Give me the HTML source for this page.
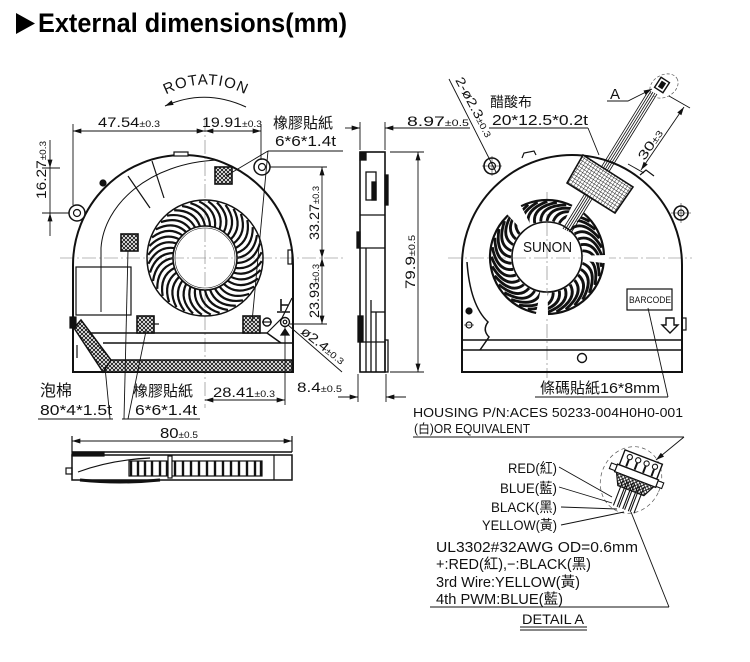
<!DOCTYPE html>
<html><head><meta charset="utf-8">
<style>
html,body{margin:0;padding:0;background:#fff;width:750px;height:662px;overflow:hidden}
svg{display:block}
text{font-family:"Liberation Sans","Noto Sans CJK TC",sans-serif;fill:#111}
</style></head><body>
<svg width="750" height="662" viewBox="0 0 750 662" xmlns="http://www.w3.org/2000/svg">
<defs>
<marker id="ar" viewBox="0 0 10 6" refX="10" refY="3" markerWidth="9" markerHeight="5" markerUnits="userSpaceOnUse" orient="auto-start-reverse"><path d="M0,0 L10,3 L0,6 z" fill="#111"/></marker>
<pattern id="hx" width="4" height="4" patternUnits="userSpaceOnUse"><rect width="4" height="4" fill="#fff"/><path d="M0,0 L4,4 M4,0 L0,4" stroke="#111" stroke-width="0.9"/></pattern>
<pattern id="grid" width="3.2" height="3.2" patternUnits="userSpaceOnUse" patternTransform="rotate(33)"><rect width="3.2" height="3.2" fill="#fff"/><path d="M0,0 H3.2 M0,0 V3.2" stroke="#111" stroke-width="0.8"/></pattern>
<path id="b1" d="M32,0 Q49,-3 52,-23" fill="none" stroke="#111" stroke-width="2.2"/>
<path id="b2" d="M36,0 Q52,3 48,28" fill="none" stroke="#111" stroke-width="2.8"/>
</defs>

<!-- Title -->
<polygon points="16,13 16,34 35,23.5" fill="#000"/>
<text x="38" y="32" font-size="27" font-weight="bold" textLength="309" lengthAdjust="spacingAndGlyphs" style="fill:#000">External dimensions(mm)</text>

<!-- ================= LEFT VIEW ================= -->
<g fill="none" stroke="#111" stroke-width="1.2">
  <g stroke="#777" stroke-width="0.6" stroke-dasharray="14 3 2 3">
    <line x1="205" y1="118" x2="205" y2="408"/>
    <line x1="60" y1="258" x2="345" y2="258"/>
  </g>
  <!-- housing -->
  <path d="M73,372 V265 A110,110 0 0 1 293,265 V372 Z" stroke-width="2"/>
  <path d="M101,312 V248 C104,205 148,163 218,160" stroke-width="1"/>
  <line x1="128" y1="176" x2="150" y2="208"/>
  <line x1="152" y1="161" x2="164" y2="198"/>
  <rect x="174" y="152" width="14" height="4" fill="#fff"/>
  <circle cx="103" cy="183" r="3" fill="#111"/>
  <rect x="76" y="267" width="55" height="48"/>
  <rect x="288" y="250" width="4" height="14"/>
  <path d="M267,333 L282,318 L292,298"/>
  <!-- bottom -->
  <line x1="87" y1="333" x2="267" y2="333" stroke-width="1.5"/>
  <line x1="267" y1="333" x2="281" y2="343" stroke-width="1.5"/>
  <line x1="103" y1="343" x2="292" y2="343" stroke-width="1.5"/>
  <rect x="103" y="360" width="189" height="12" fill="url(#hx)" stroke-width="1.5"/>
  <polygon points="74,328 81,320 111,360 103,372" fill="url(#hx)" stroke-width="1.5"/>
  <rect x="70" y="317" width="6" height="11" fill="#111"/>
  <line x1="77" y1="345" x2="77" y2="358"/>
  <!-- pads -->
  <rect x="215" y="167" width="17" height="17" fill="url(#hx)" stroke-width="1.6"/>
  <rect x="121" y="234" width="17" height="17" fill="url(#hx)" stroke-width="1.6"/>
  <rect x="137" y="316" width="17" height="17" fill="url(#hx)" stroke-width="1.6"/>
  <rect x="243" y="316" width="17" height="17" fill="url(#hx)" stroke-width="1.6"/>
  <line x1="154" y1="324" x2="159" y2="324"/>
  <!-- impeller -->
  <g transform="translate(205,258)">
    <circle r="58" stroke-width="1.5"/>
    <use href="#b1" transform="rotate(0)"/><use href="#b1" transform="rotate(9)"/><use href="#b1" transform="rotate(18)"/><use href="#b1" transform="rotate(27)"/><use href="#b1" transform="rotate(36)"/><use href="#b1" transform="rotate(45)"/><use href="#b1" transform="rotate(54)"/><use href="#b1" transform="rotate(63)"/><use href="#b1" transform="rotate(72)"/><use href="#b1" transform="rotate(81)"/>
    <use href="#b1" transform="rotate(90)"/><use href="#b1" transform="rotate(99)"/><use href="#b1" transform="rotate(108)"/><use href="#b1" transform="rotate(117)"/><use href="#b1" transform="rotate(126)"/><use href="#b1" transform="rotate(135)"/><use href="#b1" transform="rotate(144)"/><use href="#b1" transform="rotate(153)"/><use href="#b1" transform="rotate(162)"/><use href="#b1" transform="rotate(171)"/>
    <use href="#b1" transform="rotate(180)"/><use href="#b1" transform="rotate(189)"/><use href="#b1" transform="rotate(198)"/><use href="#b1" transform="rotate(207)"/><use href="#b1" transform="rotate(216)"/><use href="#b1" transform="rotate(225)"/><use href="#b1" transform="rotate(234)"/><use href="#b1" transform="rotate(243)"/><use href="#b1" transform="rotate(252)"/><use href="#b1" transform="rotate(261)"/>
    <use href="#b1" transform="rotate(270)"/><use href="#b1" transform="rotate(279)"/><use href="#b1" transform="rotate(288)"/><use href="#b1" transform="rotate(297)"/><use href="#b1" transform="rotate(306)"/><use href="#b1" transform="rotate(315)"/><use href="#b1" transform="rotate(324)"/><use href="#b1" transform="rotate(333)"/><use href="#b1" transform="rotate(342)"/><use href="#b1" transform="rotate(351)"/>
    <circle r="32" fill="#fff" stroke-width="1.6"/>
    <circle r="30" stroke-width="0.6"/>
  </g>
  <g stroke="#777" stroke-width="0.6" stroke-dasharray="14 3 2 3">
    <line x1="205" y1="228" x2="205" y2="290"/>
    <line x1="170" y1="258" x2="240" y2="258"/>
  </g>
  <!-- ears -->
  <circle cx="77" cy="213" r="8" fill="#fff" stroke-width="1.5"/>
  <circle cx="77" cy="213" r="3.5"/>
  <circle cx="262" cy="167" r="8" fill="#fff" stroke-width="1.5"/>
  <circle cx="262" cy="167" r="3.5"/>
  <!-- screw holes -->
  <circle cx="267" cy="322" r="4" stroke-width="1.4"/>
  <line x1="262" y1="322" x2="272" y2="322"/>
  <circle cx="285" cy="322" r="4.5" stroke-width="1.4"/>
  <circle cx="285" cy="322" r="1.8"/>
  <path d="M281,299 V311 M281,305 H288 M277,312 H290" stroke-width="1.6"/>
  <path d="M285,329 L281,335 H289 Z" fill="#111"/>
</g>

<!-- ROTATION -->
<path id="rp" d="M158,99 Q205,70 254,99" fill="none"/>
<text font-size="15" letter-spacing="1"><textPath href="#rp" startOffset="50%" text-anchor="middle">ROTATION</textPath></text>
<path d="M165,106 Q205,88 246,107" fill="none" stroke="#111" stroke-width="1.1" marker-start="url(#ar)"/>

<!-- Left view dimensions -->
<g fill="none" stroke="#111" stroke-width="0.9">
  <line x1="73" y1="124" x2="73" y2="205"/>
  <line x1="261" y1="124" x2="261" y2="160"/>
  <line x1="73" y1="131" x2="205" y2="131" marker-start="url(#ar)" marker-end="url(#ar)"/>
  <line x1="205" y1="131" x2="261" y2="131" marker-start="url(#ar)" marker-end="url(#ar)"/>
  <!-- 16.27 -->
  <line x1="42" y1="213" x2="69" y2="213"/>
  <line x1="42" y1="168" x2="60" y2="168"/>
  <line x1="50" y1="140" x2="50" y2="168" marker-end="url(#ar)"/>
  <line x1="50" y1="236" x2="50" y2="213" marker-end="url(#ar)"/>
  <line x1="50" y1="168" x2="50" y2="213"/>
  <!-- right verticals -->
  <line x1="270" y1="167" x2="327" y2="167"/>
  <line x1="290" y1="324" x2="327" y2="324"/>
  <line x1="322" y1="167" x2="322" y2="258" marker-start="url(#ar)" marker-end="url(#ar)"/>
  <line x1="322" y1="258" x2="322" y2="324" marker-start="url(#ar)" marker-end="url(#ar)"/>
  <!-- dia leader -->
  <line x1="288" y1="325" x2="342" y2="372"/>
  <!-- 28.41 -->
  <line x1="285" y1="326" x2="285" y2="405"/>
  <line x1="205" y1="400" x2="285" y2="400" marker-start="url(#ar)" marker-end="url(#ar)"/>
  <!-- 8.4 -->
  <line x1="358" y1="374" x2="358" y2="402"/>
  <line x1="386" y1="374" x2="386" y2="402"/>
  <line x1="338" y1="397" x2="358" y2="397" marker-end="url(#ar)"/>
  <line x1="406" y1="397" x2="386" y2="397" marker-end="url(#ar)"/>
  <!-- labels underline/leaders -->
  <line x1="268" y1="151" x2="343" y2="151"/>
  <line x1="268" y1="151" x2="226" y2="176"/>
  <line x1="268" y1="151" x2="252" y2="322"/>
  <line x1="38" y1="419" x2="113" y2="419"/>
  <line x1="110" y1="419" x2="105" y2="367"/>
  <line x1="122" y1="419" x2="200" y2="419"/>
  <line x1="124" y1="419" x2="128" y2="250"/>
  <line x1="128" y1="419" x2="146" y2="331"/>
</g>
<text x="98" y="127" font-size="14" textLength="62" lengthAdjust="spacingAndGlyphs">47.54<tspan font-size="9">±0.3</tspan></text>
<text x="202" y="127" font-size="14" textLength="60" lengthAdjust="spacingAndGlyphs">19.91<tspan font-size="9">±0.3</tspan></text>
<text transform="translate(46,170) rotate(-90)" text-anchor="middle" font-size="14" textLength="58" lengthAdjust="spacingAndGlyphs">16.27<tspan font-size="9">±0.3</tspan></text>
<text transform="translate(319,213) rotate(-90)" text-anchor="middle" font-size="14" textLength="54" lengthAdjust="spacingAndGlyphs">33.27<tspan font-size="9">±0.3</tspan></text>
<text transform="translate(319,291) rotate(-90)" text-anchor="middle" font-size="14" textLength="54" lengthAdjust="spacingAndGlyphs">23.93<tspan font-size="9">±0.3</tspan></text>
<text transform="translate(300,333) rotate(38)" font-size="13" textLength="52" lengthAdjust="spacingAndGlyphs">ø2.4<tspan font-size="9">±0.3</tspan></text>
<text x="213" y="397" font-size="14" textLength="62" lengthAdjust="spacingAndGlyphs">28.41<tspan font-size="9">±0.3</tspan></text>
<text x="297" y="392" font-size="14" textLength="45" lengthAdjust="spacingAndGlyphs">8.4<tspan font-size="9">±0.5</tspan></text>
<text x="273" y="128" font-size="15">橡膠貼紙</text>
<text x="275" y="146" font-size="15" textLength="61" lengthAdjust="spacingAndGlyphs">6*6*1.4t</text>
<text x="40" y="396" font-size="16">泡棉</text>
<text x="40" y="415" font-size="15" textLength="72" lengthAdjust="spacingAndGlyphs">80*4*1.5t</text>
<text x="133" y="396" font-size="15">橡膠貼紙</text>
<text x="135" y="415" font-size="15" textLength="62" lengthAdjust="spacingAndGlyphs">6*6*1.4t</text>

<!-- ================= SIDE VIEW ================= -->
<g fill="none" stroke="#111" stroke-width="1.3">
  <rect x="360" y="152" width="25" height="220" stroke-width="1.6"/>
  <rect x="360" y="153" width="6" height="7" fill="#111"/>
  <rect x="366" y="172" width="10" height="28"/>
  <rect x="372" y="182" width="4" height="18" fill="#111"/>
  <rect x="385" y="175" width="3" height="30" fill="#111"/>
  <line x1="360" y1="215" x2="385" y2="215"/>
  <line x1="360" y1="248" x2="385" y2="248"/>
  <rect x="357" y="232" width="3" height="16" fill="#111"/>
  <line x1="366" y1="248" x2="366" y2="372"/>
  <line x1="371" y1="300" x2="371" y2="372"/>
  <line x1="376" y1="312" x2="376" y2="372"/>
  <line x1="371" y1="312" x2="385" y2="312"/>
  <rect x="358" y="316" width="5" height="26" fill="#111"/>
  <line x1="360" y1="342" x2="385" y2="342"/>
  <rect x="385" y="340" width="3" height="32"/>
  <!-- dims -->
  <g stroke-width="0.9">
    <line x1="360" y1="122" x2="360" y2="150"/>
    <line x1="385" y1="122" x2="385" y2="150"/>
    <line x1="345" y1="128" x2="360" y2="128" marker-end="url(#ar)"/>
    <line x1="470" y1="128" x2="385" y2="128" marker-end="url(#ar)"/>
    <line x1="390" y1="152" x2="424" y2="152"/>
    <line x1="390" y1="372" x2="424" y2="372"/>
    <line x1="418" y1="152" x2="418" y2="372" marker-start="url(#ar)" marker-end="url(#ar)"/>
  </g>
</g>
<text x="407" y="126" font-size="14" textLength="62" lengthAdjust="spacingAndGlyphs">8.97<tspan font-size="9">±0.5</tspan></text>
<text transform="translate(415,262) rotate(-90)" text-anchor="middle" font-size="14" textLength="54" lengthAdjust="spacingAndGlyphs">79.9<tspan font-size="9">±0.5</tspan></text>

<!-- ================= BOTTOM VIEW ================= -->
<g fill="none" stroke="#111" stroke-width="1.2">
  <line x1="72" y1="436" x2="72" y2="452"/>
  <line x1="292" y1="436" x2="292" y2="452"/>
  <line x1="72" y1="441" x2="292" y2="441" stroke-width="0.9" marker-start="url(#ar)" marker-end="url(#ar)"/>
  <line x1="72" y1="452" x2="292" y2="452" stroke-width="1.5"/>
  <rect x="72" y="455" width="220" height="25" stroke-width="1.5"/>
  <rect x="72" y="452" width="32" height="4" fill="#111"/>
  <rect x="66" y="468" width="6" height="6"/>
  <path d="M78,472 Q110,460 150,458"/>
  <path d="M80,480 Q120,484 160,480" stroke-width="3"/>
  <rect x="129" y="461" width="133" height="15"/>
  <g stroke-width="2.4">
    <line x1="131" y1="461" x2="131" y2="476"/><line x1="138" y1="461" x2="138" y2="476"/><line x1="145" y1="461" x2="145" y2="476"/><line x1="152" y1="461" x2="152" y2="476"/><line x1="160" y1="461" x2="160" y2="476"/><line x1="167" y1="461" x2="167" y2="476"/><line x1="175" y1="461" x2="175" y2="476"/><line x1="183" y1="461" x2="183" y2="476"/><line x1="191" y1="461" x2="191" y2="476"/><line x1="199" y1="461" x2="199" y2="476"/><line x1="207" y1="461" x2="207" y2="476"/><line x1="215" y1="461" x2="215" y2="476"/><line x1="223" y1="461" x2="223" y2="476"/><line x1="231" y1="461" x2="231" y2="476"/><line x1="239" y1="461" x2="239" y2="476"/><line x1="247" y1="461" x2="247" y2="476"/><line x1="255" y1="461" x2="255" y2="476"/><line x1="261" y1="461" x2="261" y2="476"/>
  </g>
  <rect x="168" y="456" width="4" height="22" fill="#fff"/>
  <line x1="274" y1="455" x2="274" y2="480"/>
</g>
<text x="160" y="438" font-size="15" textLength="38" lengthAdjust="spacingAndGlyphs">80<tspan font-size="9">±0.5</tspan></text>

<!-- ================= RIGHT VIEW ================= -->
<g fill="none" stroke="#111" stroke-width="1.2">
  <g stroke="#777" stroke-width="0.6" stroke-dasharray="14 3 2 3">
    <line x1="547" y1="192" x2="547" y2="378"/>
    <line x1="448" y1="258" x2="692" y2="258"/>
  </g>
  <path d="M462,372 V265 A110,110 0 0 1 682,265 V372 Z" stroke-width="2"/>
  <line x1="462" y1="340" x2="682" y2="340" stroke-width="1.5"/>
  <line x1="462" y1="350" x2="682" y2="350" stroke-width="1.5"/>
  <path d="M467,262 Q470,305 488,322 Q482,330 489,337 L480,350" stroke-width="1.5"/>
  <circle cx="469" cy="311" r="3" fill="#111"/>
  <circle cx="469" cy="325" r="3"/>
  <line x1="464" y1="325" x2="474" y2="325" stroke-width="0.6"/>
  <circle cx="582" cy="358" r="4.5" stroke-width="1.4"/>
  <rect x="682" y="318" width="4" height="12"/>
  <rect x="627" y="289" width="45" height="21" fill="#fff"/>
  <polygon points="666,318 674,318 674,325 678,325 670,333 662,325 666,325" stroke-width="1.4"/>
  <path d="M522,158 L524,153 L534,151 L536,155"/>
  <path d="M640,175 L646,170 L654,176"/>
  <!-- ears -->
  <circle cx="492" cy="166" r="8" fill="#fff" stroke-width="1.6"/>
  <circle cx="492" cy="166" r="3.5"/>
  <circle cx="681" cy="213" r="7" fill="#fff" stroke-width="1.6"/>
  <circle cx="681" cy="213" r="3"/>
  <g stroke-width="0.5">
    <line x1="482" y1="166" x2="502" y2="166"/><line x1="492" y1="156" x2="492" y2="176"/>
    <line x1="671" y1="213" x2="691" y2="213"/><line x1="681" y1="203" x2="681" y2="223"/>
  </g>
  <!-- impeller -->
  <g transform="translate(547,257)">
    <use href="#b2" transform="rotate(0)"/><use href="#b2" transform="rotate(10)"/><use href="#b2" transform="rotate(20)"/><use href="#b2" transform="rotate(30)"/><use href="#b2" transform="rotate(40)"/><use href="#b2" transform="rotate(50)"/><use href="#b2" transform="rotate(60)"/><use href="#b2" transform="rotate(70)"/><use href="#b2" transform="rotate(80)"/>
    <use href="#b2" transform="rotate(90)"/><use href="#b2" transform="rotate(100)"/><use href="#b2" transform="rotate(110)"/><use href="#b2" transform="rotate(120)"/><use href="#b2" transform="rotate(130)"/><use href="#b2" transform="rotate(140)"/><use href="#b2" transform="rotate(150)"/><use href="#b2" transform="rotate(160)"/><use href="#b2" transform="rotate(170)"/>
    <use href="#b2" transform="rotate(180)"/><use href="#b2" transform="rotate(190)"/><use href="#b2" transform="rotate(200)"/><use href="#b2" transform="rotate(210)"/><use href="#b2" transform="rotate(220)"/><use href="#b2" transform="rotate(230)"/><use href="#b2" transform="rotate(240)"/><use href="#b2" transform="rotate(250)"/><use href="#b2" transform="rotate(260)"/>
    <use href="#b2" transform="rotate(270)"/><use href="#b2" transform="rotate(280)"/><use href="#b2" transform="rotate(290)"/><use href="#b2" transform="rotate(300)"/><use href="#b2" transform="rotate(310)"/><use href="#b2" transform="rotate(320)"/><use href="#b2" transform="rotate(330)"/><use href="#b2" transform="rotate(340)"/><use href="#b2" transform="rotate(350)"/>
    <circle r="57" stroke-width="2.2"/>
    <g fill="#fff" stroke="none">
      <path d="M0,0 L27.2,-55.7 A62,62 0 0 1 39.9,-47.5 Z"/>
      <path d="M0,0 L61.96,-2.16 A62,62 0 0 1 61.66,6.48 Z"/>
      <path d="M0,0 L1.08,61.99 A62,62 0 0 1 -11.83,60.86 Z"/>
      <path d="M0,0 L-42.28,-45.34 A62,62 0 0 1 -28.15,-55.24 Z"/>
    </g>
    <circle r="35" fill="#fff" stroke-width="1.6"/>
  </g>
  <g stroke="#777" stroke-width="0.6" stroke-dasharray="14 3 2 3">
    <line x1="547" y1="222" x2="547" y2="292"/>
    <line x1="512" y1="258" x2="582" y2="258"/>
  </g>
  <!-- cable -->
  <g stroke-width="0.8">
    <line x1="563" y1="229" x2="649" y2="90"/>
    <line x1="565" y1="230" x2="651" y2="91"/>
    <line x1="567" y1="231" x2="653" y2="92"/>
    <line x1="569" y1="232" x2="655" y2="93"/>
    <line x1="571" y1="233" x2="657" y2="94"/>
  </g>
  <polygon points="567,183 583,155 633,187 615,213" fill="url(#grid)" stroke-width="1.6"/>
  <g transform="translate(662,85) rotate(-57)">
    <rect x="-6" y="-5" width="12" height="10" fill="#fff" stroke-width="1.4"/>
    <rect x="-3" y="-2" width="6" height="4" fill="#111"/>
  </g>
  <ellipse cx="664" cy="86" rx="15" ry="11" transform="rotate(-30 664 86)" stroke="#555" stroke-width="0.7" stroke-dasharray="3 2"/>
  <!-- A label -->
  <g stroke-width="0.9">
    <path d="M607,101 H628 L652,89" marker-end="url(#ar)"/>
    <line x1="669" y1="96" x2="690" y2="108"/>
    <line x1="684" y1="107" x2="641" y2="170" marker-start="url(#ar)" marker-end="url(#ar)"/>
    <line x1="628" y1="164" x2="644" y2="173"/>
    <!-- 2-dia leader -->
    <line x1="449" y1="79" x2="496" y2="172"/>
    <!-- acetate leader -->
    <line x1="489" y1="128" x2="588" y2="128"/>
    <line x1="588" y1="128" x2="599" y2="155"/>
    <!-- barcode leader -->
    <line x1="535" y1="397" x2="668" y2="397"/>
    <line x1="668" y1="397" x2="648" y2="308"/>
  </g>
</g>
<text x="629" y="303" font-size="9" textLength="42" lengthAdjust="spacingAndGlyphs">BARCODE</text>
<text x="523" y="252" font-size="15" textLength="49" lengthAdjust="spacingAndGlyphs">SUNON</text>
<text x="610" y="99" font-size="15">A</text>
<text transform="translate(654,147) rotate(-56)" text-anchor="middle" font-size="13" textLength="34" lengthAdjust="spacingAndGlyphs">30<tspan font-size="9">±3</tspan></text>
<text transform="translate(455,80) rotate(62)" font-size="13" textLength="66" lengthAdjust="spacingAndGlyphs">2-ø2.3<tspan font-size="9">±0.3</tspan></text>
<text x="490" y="107" font-size="14">醋酸布</text>
<text x="492" y="125" font-size="15" textLength="96" lengthAdjust="spacingAndGlyphs">20*12.5*0.2t</text>
<text x="540" y="393" font-size="15">條碼貼紙<tspan textLength="60" lengthAdjust="spacingAndGlyphs">16*8mm</tspan></text>

<!-- ================= DETAIL A ================= -->
<text x="413" y="417" font-size="12.5" textLength="270" lengthAdjust="spacingAndGlyphs">HOUSING P/N:ACES 50233-004H0H0-001</text>
<text x="414" y="433" font-size="12.5" textLength="116" lengthAdjust="spacingAndGlyphs">(白)OR EQUIVALENT</text>
<g fill="none" stroke="#111" stroke-width="0.9">
  <line x1="413" y1="437" x2="684" y2="437"/>
  <line x1="684" y1="437" x2="656" y2="460" marker-end="url(#ar)"/>
  <ellipse cx="631" cy="480" rx="30" ry="34" transform="rotate(25 631 480)" stroke="#555" stroke-width="0.7" stroke-dasharray="4 3"/>
  <g transform="translate(638,472) rotate(21)" stroke-width="1.1">
    <rect x="-20" y="-16" width="40" height="16" fill="#fff" stroke-width="1.4"/>
    <circle cx="-13" cy="-11" r="2.6"/><circle cx="-4" cy="-11" r="2.6"/><circle cx="5" cy="-11" r="2.6"/><circle cx="14" cy="-11" r="2.6"/>
    <path d="M-13,-8 V-1 M-4,-8 V-1 M5,-8 V-1 M14,-8 V-1" stroke-width="2"/>
    <rect x="-22" y="0" width="44" height="8" fill="#fff" stroke-width="1.3"/>
    <rect x="-28" y="1" width="6" height="6" fill="#fff"/>
    <rect x="22" y="1" width="6" height="6" fill="#fff"/>
    <polygon points="-20,8 20,8 14,20 -14,20" fill="url(#hx)"/>
    <path d="M-11,12 V40 M-7,12 V40 M-5,12 V40 M-1,12 V40 M1,12 V40 M5,12 V40 M7,12 V40 M11,12 V40"/>
  </g>
  <line x1="559" y1="467" x2="612" y2="497"/>
  <line x1="559" y1="487" x2="612" y2="503"/>
  <line x1="561" y1="507" x2="617" y2="509"/>
  <line x1="561" y1="525" x2="624" y2="512"/>
  <line x1="430" y1="607" x2="669" y2="607"/>
  <line x1="669" y1="607" x2="631" y2="512"/>
  <line x1="520" y1="627" x2="587" y2="627"/>
  <line x1="520" y1="630" x2="587" y2="630"/>
</g>
<text x="557" y="473" font-size="14" text-anchor="end" textLength="49" lengthAdjust="spacingAndGlyphs">RED(紅)</text>
<text x="557" y="493" font-size="14" text-anchor="end" textLength="57" lengthAdjust="spacingAndGlyphs">BLUE(藍)</text>
<text x="557" y="512" font-size="14" text-anchor="end" textLength="66" lengthAdjust="spacingAndGlyphs">BLACK(黑)</text>
<text x="557" y="530" font-size="14" text-anchor="end" textLength="75" lengthAdjust="spacingAndGlyphs">YELLOW(黃)</text>
<text x="436" y="552" font-size="14.5" textLength="202" lengthAdjust="spacingAndGlyphs">UL3302#32AWG OD=0.6mm</text>
<text x="436" y="569" font-size="14.5" textLength="155" lengthAdjust="spacingAndGlyphs">+:RED(紅),−:BLACK(黑)</text>
<text x="436" y="587" font-size="14.5" textLength="144" lengthAdjust="spacingAndGlyphs">3rd Wire:YELLOW(黃)</text>
<text x="436" y="604" font-size="14.5" textLength="127" lengthAdjust="spacingAndGlyphs">4th PWM:BLUE(藍)</text>
<text x="522" y="624" font-size="14" textLength="62" lengthAdjust="spacingAndGlyphs">DETAIL A</text>
</svg>
</body></html>
